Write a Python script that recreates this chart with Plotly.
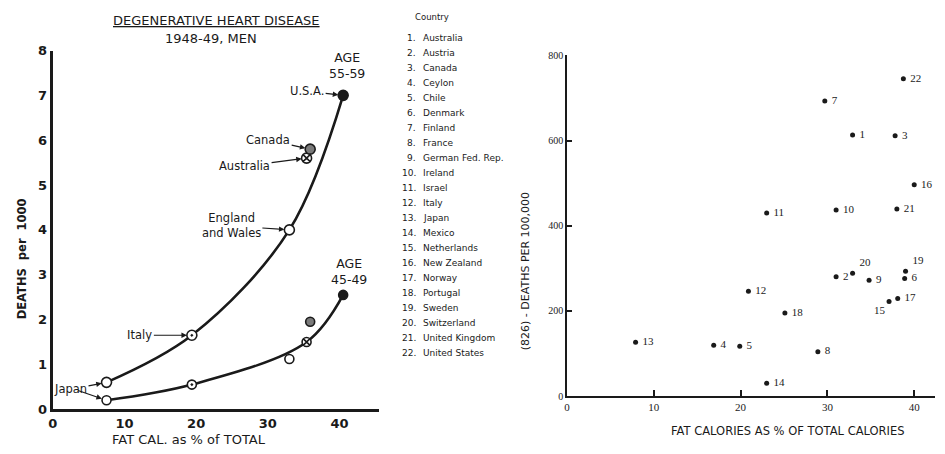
"""
    Keys-style fat vs heart disease charts: the six-country curves (left)
    and the 22-country scatter (right), side by side in one figure.
"""
import plotly.graph_objects as go

W, H = 945, 454

# --- left panel: six countries, two age groups ---
six_countries = ["Japan", "Italy", "England and Wales", "Australia", "Canada", "U.S.A."]
six_fat_pct = [7.5, 19.4, 33.0, 35.4, 35.9, 40.5]
deaths_55_59 = [0.6, 1.65, 4.0, 5.6, 5.8, 7.0]
deaths_45_49 = [0.2, 0.55, 1.12, 1.5, 1.95, 2.55]
left_xticks = [0, 10, 20, 30, 40]
left_yticks = [0, 1, 2, 3, 4, 5, 6, 7, 8]

# countries the hand-drawn curves pass through
curve_55_idx = [0, 1, 2, 5]
curve_45_idx = [0, 1, 3, 5]

# --- right panel: 22 countries ---
country_list = [
    "Australia", "Austria", "Canada", "Ceylon", "Chile", "Denmark", "Finland",
    "France", "German Fed. Rep.", "Ireland", "Israel", "Italy", "Japan",
    "Mexico", "Netherlands", "New Zealand", "Norway", "Portugal", "Sweden",
    "Switzerland", "United Kingdom", "United States",
]
fat_pct_22 = [32.9, 31.0, 37.8, 16.9, 19.9, 38.9, 29.7, 28.9, 34.8, 31.0, 23.0,
              20.9, 7.9, 23.0, 37.1, 40.0, 38.1, 25.1, 39.0, 32.9, 38.0, 38.75]
deaths_per_100k = [613, 280, 611, 119, 117, 276, 693, 104, 272, 437, 430,
                   246, 126, 30, 222, 496, 229, 195, 293, 288, 439, 745]
right_xticks = [0, 10, 20, 30, 40]
right_yticks = [0, 200, 400, 600, 800]

INK = "#1a1a1a"
SANS = "DejaVu Sans"
SERIF = "Liberation Serif"


def px_x(p):
    return p / W


def px_y(p):
    return 1 - p / H


fig = go.Figure()

# curves (spline through the points the original curve follows)
for deaths, idx in [(deaths_55_59, curve_55_idx), (deaths_45_49, curve_45_idx)]:
    fig.add_trace(go.Scatter(
        x=[six_fat_pct[i] for i in idx],
        y=[deaths[i] for i in idx],
        mode="lines", line=dict(color=INK, width=2.6, shape="spline", smoothing=1.0),
        xaxis="x", yaxis="y", hoverinfo="skip",
    ))

# per-country marker styles (japan, italy, england, australia, canada, usa)
symbols = ["circle", "circle-dot", "circle", "circle-x", "circle", "circle"]
fills = ["white", "white", "white", "white", "#7a7a7a", INK]
for deaths, size in [(deaths_55_59, 10), (deaths_45_49, 9)]:
    fig.add_trace(go.Scatter(
        x=six_fat_pct, y=deaths, mode="markers", cliponaxis=False,
        marker=dict(symbol=symbols, size=size, color=fills,
                    line=dict(color=INK, width=1.6)),
        text=six_countries, hovertemplate="%{text}<br>%{x}%%: %{y}<extra></extra>",
        xaxis="x", yaxis="y",
    ))

# right scatter
label_pos = ["middle right"] * 22
label_pos[14] = "bottom left"   # Netherlands
label_pos[18] = "top right"     # Sweden
label_pos[19] = "top right"     # Switzerland
fig.add_trace(go.Scatter(
    x=fat_pct_22, y=deaths_per_100k, mode="markers+text", cliponaxis=False,
    marker=dict(size=5, color=INK),
    text=[f" {i + 1}" for i in range(22)],
    textposition=label_pos,
    textfont=dict(family=SERIF, size=11, color=INK),
    customdata=country_list,
    hovertemplate="%{customdata}<br>%{x}%%: %{y}<extra></extra>",
    xaxis="x2", yaxis="y2",
))

annotations = []

# arrow labels on the left panel: (text, index, series, ax, ay)
arrow_labels = [
    ("U.S.A.", 5, deaths_55_59, -36, -4),
    ("Canada", 4, deaths_55_59, -42, -9),
    ("Australia", 3, deaths_55_59, -62, 8),
    ("England<br>and Wales", 2, deaths_55_59, -58, -4),
    ("Italy", 1, deaths_55_59, -52, 0),
    ("Japan", 0, deaths_55_59, -36, 7),
    (" ", 0, deaths_45_49, -32, -11),
]
for text, i, series, ax, ay in arrow_labels:
    annotations.append(dict(
        x=six_fat_pct[i], y=series[i], xref="x", yref="y",
        text=text, ax=ax, ay=ay, showarrow=True,
        arrowhead=2, arrowsize=0.9, arrowwidth=1.2, arrowcolor=INK, standoff=5,
        font=dict(family=SANS, size=11.5, color=INK),
    ))

fixed_text = [
    ("<u>DEGENERATIVE HEART DISEASE</u>", 213, 14, 13, SANS, 0),
    ("1948-49, MEN", 207, 33, 13, SANS, 0),
    ("AGE<br>55-59", 344, 61, 12.5, SANS, 0),
    ("AGE<br>45-49", 346, 274, 12.5, SANS, 0),
    ("<b>DEATHS  per  1000</b>", 18, 260, 11.5, SANS, -90),
    ("FAT CAL. as % of TOTAL", 185, 447, 13, SANS, 0),
    ("(826) - DEATHS PER 100,000", 524, 273, 11, SANS, -90),
    ("FAT CALORIES AS % OF TOTAL CALORIES", 787, 438, 11.5, SANS, 0),
]
for text, x, y, size, fam, ang in fixed_text:
    annotations.append(dict(
        x=px_x(x), y=px_y(y), xref="paper", yref="paper", text=text,
        showarrow=False, textangle=ang, xanchor="center", yanchor="middle",
        font=dict(family=fam, size=size, color=INK),
    ))

# country key
annotations.append(dict(
    x=px_x(410), y=px_y(10), xref="paper", yref="paper", text="Country",
    showarrow=False, xanchor="left", yanchor="middle",
    font=dict(family=SANS, size=8.5, color=INK),
))
for i, name in enumerate(country_list):
    row_y = px_y(32.3 + i * 15.52)
    annotations.append(dict(
        x=px_x(415), y=row_y, xref="paper", yref="paper", text=f"{i + 1}.",
        showarrow=False, xanchor="right", yanchor="middle",
        font=dict(family=SANS, size=9, color=INK),
    ))
    annotations.append(dict(
        x=px_x(418), y=row_y, xref="paper", yref="paper", text=name,
        showarrow=False, xanchor="left", yanchor="middle",
        font=dict(family=SANS, size=9, color=INK),
    ))

fig.update_layout(
    width=W, height=H, autosize=False,
    margin=dict(l=0, r=0, t=0, b=0),
    paper_bgcolor="white", plot_bgcolor="white",
    showlegend=False,
    annotations=annotations,
    xaxis=dict(
        domain=[px_x(48), px_x(376)], range=[0, 45.5],
        tickvals=left_xticks, showline=True, linewidth=3, linecolor=INK,
        showgrid=False, zeroline=False, ticks="",
        tickfont=dict(family=SANS, size=13, color=INK, weight="bold"), anchor="y",
    ),
    yaxis=dict(
        domain=[px_y(416), px_y(45)],
        range=[0, 8], tickvals=left_yticks, showline=True, linewidth=3,
        linecolor=INK, showgrid=False, zeroline=False, ticks="",
        tickfont=dict(family=SANS, size=13, color=INK, weight="bold"), anchor="x",
    ),
    xaxis2=dict(
        domain=[px_x(565), px_x(935)], range=[0, 42.4],
        tickvals=right_xticks, showline=True, linewidth=1.5, linecolor=INK,
        showgrid=False, zeroline=False, ticks="inside", ticklen=6,
        tickcolor=INK, tickwidth=1.5,
        tickfont=dict(family=SERIF, size=11, color=INK), anchor="y2",
    ),
    yaxis2=dict(
        domain=[px_y(402.3), px_y(50)], range=[0, 800],
        tickvals=right_yticks, showline=True, linewidth=1.5, linecolor=INK,
        showgrid=False, zeroline=False, ticks="inside", ticklen=5,
        tickcolor=INK, tickwidth=1.5,
        tickfont=dict(family=SERIF, size=10, color=INK), anchor="x2",
    ),
)

# the page's default body margin would push the 945x454 figure off by 8px
fig.write_html(
    "out.html",
    config={"displayModeBar": False},
    post_script="document.body.style.margin = '0';",
)
